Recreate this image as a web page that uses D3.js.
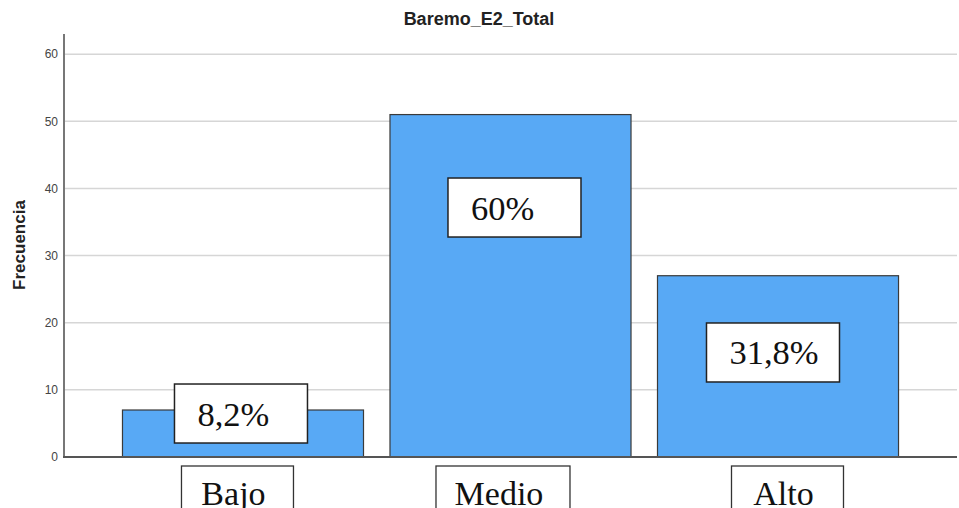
<!DOCTYPE html>
<html>
<head>
<meta charset="utf-8">
<script src="https://cdn.jsdelivr.net/npm/d3@7"></script>
<style>
  html, body { margin: 0; padding: 0; background: #fff; }
  svg { display: block; }
</style>
</head>
<body>
<svg id="chart" width="959" height="508"></svg>
<script>
// ---- data ----
const categories = ["Bajo", "Medio", "Alto"];
const frequencies = [7, 51, 27];
const percentLabels = ["8,2%", "60%", "31,8%"];
const yTicks = [0, 10, 20, 30, 40, 50, 60];
const chartTitle = "Baremo_E2_Total";
const yTitle = "Frecuencia";

// ---- layout (annotation boxes placed over the chart) ----
const pctBoxDx = [52, 58, 49];        // px from bar left
const pctBoxTop = [10.87, 41.55, 19.96]; // in data units
const pctBoxW = 133, pctBoxH = 59;
const catBoxDx = [59, 46, 74];
const catBoxW = [112, 134, 112];

const svg = d3.select("#chart");
const plotLeft = 64, plotRight = 957, plotTop = 34, plotBottom = 457;

const x = d3.scaleBand().domain(categories).range([plotLeft, plotRight])
  .paddingInner(0.099).paddingOuter(0.2186).align(0.5);
const y = d3.scaleLinear().domain([0, 63]).range([plotBottom, plotTop]);

// gridlines
svg.append("g").selectAll("line").data(yTicks.filter(d => d > 0)).join("line")
  .attr("x1", plotLeft).attr("x2", plotRight)
  .attr("y1", d => y(d)).attr("y2", d => y(d))
  .attr("stroke", "#d6d6d6").attr("stroke-width", 1.5);

// y axis
const yAxis = d3.axisLeft(y).tickValues(yTicks).tickSize(0).tickPadding(6);
const gy = svg.append("g").attr("transform", `translate(${plotLeft},0)`).call(yAxis);
gy.select(".domain").remove();
gy.selectAll("text").attr("font-family", "'Liberation Sans', Arial, sans-serif")
  .attr("font-size", 12).attr("fill", "#444");

// bars
svg.append("g").selectAll("rect").data(frequencies).join("rect")
  .attr("x", (d, i) => x(categories[i]))
  .attr("y", d => y(d))
  .attr("width", x.bandwidth())
  .attr("height", d => plotBottom - y(d))
  .attr("fill", "#58a9f5")
  .attr("stroke", "#3a3a3a").attr("stroke-width", 1.2);

// axis lines
svg.append("line").attr("x1", plotLeft).attr("x2", plotLeft).attr("y1", plotTop).attr("y2", plotBottom)
  .attr("stroke", "#777").attr("stroke-width", 2);
svg.append("line").attr("x1", plotLeft - 1).attr("x2", plotRight).attr("y1", plotBottom).attr("y2", plotBottom)
  .attr("stroke", "#555").attr("stroke-width", 2);

// title
svg.append("text").attr("x", 479).attr("y", 25).attr("text-anchor", "middle")
  .attr("font-family", "'Liberation Sans', Arial, sans-serif")
  .attr("font-weight", "bold").attr("font-size", 18).attr("fill", "#222")
  .text(chartTitle);

// y title
svg.append("text").attr("transform", "translate(25,245) rotate(-90)")
  .attr("text-anchor", "middle")
  .attr("font-family", "'Liberation Sans', Arial, sans-serif")
  .attr("font-weight", "bold").attr("font-size", 17).attr("fill", "#222")
  .text(yTitle);

// percent boxes
const pg = svg.append("g").selectAll("g").data(percentLabels).join("g")
  .attr("transform", (d, i) => `translate(${x(categories[i]) + pctBoxDx[i]},${y(pctBoxTop[i])})`);
pg.append("rect").attr("width", pctBoxW).attr("height", pctBoxH)
  .attr("fill", "#fff").attr("stroke", "#222").attr("stroke-width", 1.5);
pg.append("text").attr("x", 23).attr("y", pctBoxH / 2 + 12)
  .attr("font-family", "'Liberation Serif', 'Times New Roman', serif")
  .attr("font-size", 34.5).attr("fill", "#111")
  .text(d => d);

// category boxes
const cg = svg.append("g").selectAll("g").data(categories).join("g")
  .attr("transform", (d, i) => `translate(${x(d) + catBoxDx[i]},466)`);
cg.append("rect").attr("width", (d, i) => catBoxW[i]).attr("height", 60)
  .attr("fill", "#fff").attr("stroke", "#333").attr("stroke-width", 1.3);
cg.append("text").attr("x", (d, i) => catBoxW[i] / 2 - 4).attr("y", 39)
  .attr("text-anchor", "middle")
  .attr("font-family", "'Liberation Serif', 'Times New Roman', serif")
  .attr("font-size", 34).attr("fill", "#111")
  .text(d => d);
</script>
</body>
</html>
